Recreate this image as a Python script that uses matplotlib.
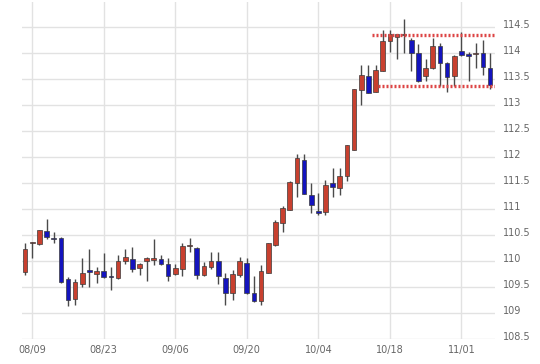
import matplotlib
matplotlib.use("Agg")
import matplotlib.pyplot as plt
import matplotlib.transforms as mtransforms
import numpy as np

# daily OHLC, one entry per trading day (index 1 = 08/09)
opens = [109.79, 110.34, 110.32, 110.58, 110.44, 110.44, 109.64, 109.27, 109.56, 109.83,
         109.75, 109.81, 109.69, 109.66, 110.00, 110.03, 109.86, 110.00, 110.01, 110.03,
         109.94, 109.75, 109.84, 110.28, 110.24, 109.72, 109.88, 110.00, 109.67, 109.37,
         109.73, 109.96, 109.38, 109.22, 109.76, 110.30, 110.73, 110.98, 111.50, 111.95,
         111.26, 110.94, 110.94, 111.49, 111.40, 111.64, 112.14, 113.29, 113.57, 113.26,
         113.65, 114.24, 114.31, 114.35, 114.26, 114.00, 113.56, 113.71, 114.15, 113.82,
         113.56, 114.05, 113.98, 113.98, 114.00, 113.72]
highs = [110.35, 110.36, 110.60, 110.81, 110.55, 110.45, 109.68, 109.64, 110.06, 110.22,
         109.88, 110.14, 109.88, 110.11, 110.22, 110.26, 109.96, 110.08, 110.42, 110.11,
         110.06, 109.94, 110.34, 110.44, 110.27, 109.98, 110.16, 110.16, 109.76, 109.83,
         110.08, 110.05, 109.71, 109.91, 110.35, 110.78, 111.06, 111.53, 112.05, 112.06,
         111.50, 111.31, 111.56, 111.78, 111.78, 112.24, 113.31, 113.78, 113.78, 113.78,
         114.45, 114.45, 114.38, 114.67, 114.29, 114.18, 113.90, 114.29, 114.19, 113.84,
         113.97, 114.42, 114.02, 114.19, 114.26, 114.01]
lows = [109.72, 110.05, 110.31, 110.42, 110.34, 109.57, 109.12, 109.14, 109.50, 109.49,
        109.58, 109.67, 109.44, 109.64, 109.94, 109.79, 109.72, 109.60, 109.92, 109.92,
        109.60, 109.72, 109.70, 110.16, 109.64, 109.70, 109.85, 109.56, 109.14, 109.24,
        109.69, 109.35, 109.20, 109.15, 109.76, 110.28, 110.55, 110.98, 111.23, 111.29,
        110.93, 110.88, 110.89, 111.23, 111.26, 111.53, 112.14, 113.00, 113.23, 113.26,
        113.65, 114.02, 113.90, 114.00, 113.65, 113.44, 113.46, 113.69, 113.37, 113.26,
        113.37, 113.95, 113.46, 113.71, 113.58, 113.31]
closes = [110.22, 110.35, 110.60, 110.45, 110.42, 109.59, 109.25, 109.59, 109.77, 109.78,
          109.80, 109.69, 109.68, 110.00, 110.08, 109.85, 109.94, 110.05, 110.05, 109.94,
          109.70, 109.86, 110.29, 110.30, 109.72, 109.90, 110.00, 109.70, 109.37, 109.75,
          109.99, 109.38, 109.22, 109.81, 110.34, 110.75, 111.02, 111.52, 111.98, 111.29,
          111.08, 110.93, 111.47, 111.42, 111.64, 112.24, 113.31, 113.58, 113.24, 113.68,
          114.24, 114.37, 114.37, 114.36, 114.00, 113.47, 113.71, 114.14, 113.82, 113.54,
          113.95, 113.97, 113.94, 114.01, 113.73, 113.39]

date_labels = ["08/09", "08/23", "09/06", "09/20", "10/04", "10/18", "11/01"]
date_index = [1, 11, 21, 31, 41, 51, 61]

# range lines
range_high = 114.35
range_low = 113.37
range_high_start = 48.5
range_low_start = 49.4

red = "#c8402f"
blue = "#1414be"

o = np.array(opens)
h = np.array(highs)
l = np.array(lows)
c = np.array(closes)
x = np.arange(len(o))

fig = plt.figure(figsize=(5.4, 3.64), dpi=100)
ax = fig.add_axes([21.5 / 540, 1 - 338.5 / 364, (495 - 21.5) / 540, (338.5 - 1.5) / 364])

up = c >= o
colors = [red if u else blue for u in up]
bottoms = np.minimum(o, c)
heights = np.maximum(np.abs(c - o), 0.025)

ax.vlines(x, l, h, color="#4a4a4a", linewidth=1.0, zorder=2)
ax.bar(x, heights, bottom=bottoms, width=0.65, color=colors,
       edgecolor="#3a3a3a", linewidth=0.5, zorder=3)

xmax = 65.7
ax.hlines(range_high, range_high_start, xmax, color="#dd4444", linewidth=2.4,
          linestyles=(0, (0.6, 0.6)), zorder=4)
ax.hlines(range_low, range_low_start, xmax, color="#dd4444", linewidth=2.4,
          linestyles=(0, (0.6, 0.6)), zorder=4)

ax.set_xlim(-0.5, xmax)
ax.set_ylim(108.5, 115)
ax.set_xticks(date_index)
ax.set_xticklabels(date_labels)
ax.set_yticks(np.arange(108.5, 114.51, 0.5))
ax.set_yticklabels([f"{v:g}" for v in np.arange(108.5, 114.51, 0.5)])
ax.yaxis.tick_right()

ax.grid(True, color="#e2e2e2", linewidth=1.0, zorder=0)
ax.set_axisbelow(True)
for s in ax.spines.values():
    s.set_visible(False)
ax.tick_params(length=0, labelsize=7, labelcolor="#666666")
ax.tick_params(axis="y", pad=6)
ax.tick_params(axis="x", pad=5)

# y labels sit a little above their grid lines
shift = mtransforms.ScaledTranslation(0, 3 / 100, fig.dpi_scale_trans)
for lab in ax.get_yticklabels():
    lab.set_transform(lab.get_transform() + shift)

fig.savefig("out.png", dpi=100, facecolor="white")
